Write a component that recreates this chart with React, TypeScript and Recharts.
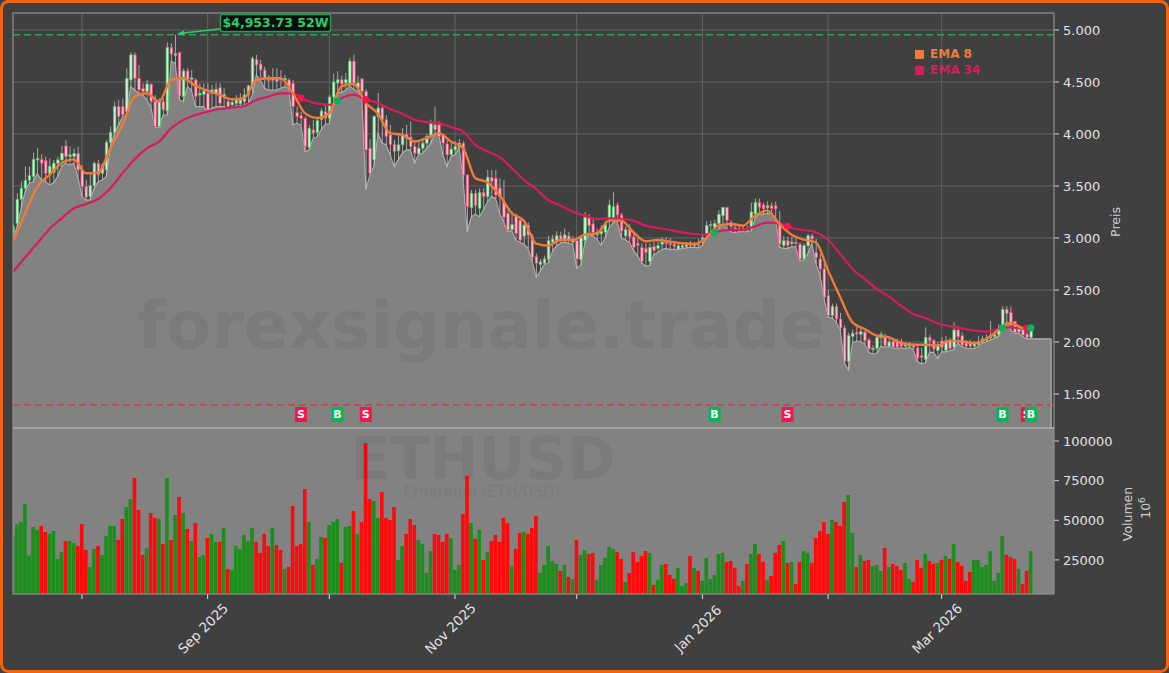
import { Area, Bar, CartesianGrid, Cell, ComposedChart, Line, ReferenceDot, ReferenceLine, XAxis, YAxis } from "recharts";

const opens = [3040,3141,3372,3478,3555,3590,3750,3756,3744,3622,3630,3718,3750,3885,3782,3782,3814,3654,3494,3398,3503,3718,3622,3654,3917,4016,4263,4263,4215,4519,4760,4535,4439,4407,4478,4311,4071,4311,4221,4833,4755,4785,4359,4606,4526,4519,4375,4381,4391,4391,4391,4446,4365,4311,4279,4295,4289,4311,4375,4471,4718,4673,4615,4526,4519,4545,4535,4519,4519,4487,4208,4176,4151,3869,4039,4013,4141,4215,4151,4355,4490,4522,4490,4490,4700,4442,4529,4410,3863,3751,4169,4249,4137,3992,3902,3838,3896,3998,3970,3880,3809,3863,3912,3976,4088,4088,3992,3905,3799,3847,3873,3912,3606,3291,3429,3285,3439,3397,3580,3574,3480,3350,3236,3080,3211,3172,3018,3124,3013,2820,2745,2757,2795,2960,2958,3020,2990,3020,2960,2974,2790,2974,3199,3135,3030,3040,3055,3183,3180,3317,3221,3020,3080,3010,2950,2910,2900,2775,2920,2900,2940,2960,2950,2940,2890,2910,2920,2940,2925,2940,2975,3040,3120,3100,3140,3215,3295,3150,3100,3090,3075,3095,3090,3231,3343,3320,3290,3310,3310,3150,2926,2974,2945,2960,2940,2800,2925,3020,2862,2798,2702,2445,2253,2343,2221,2135,1814,2055,2093,2075,2093,2020,1925,1940,2040,2055,1955,2005,2005,1985,1960,1960,1975,1943,1870,1830,2045,2013,1917,2010,1920,2015,1950,2115,2060,1990,1985,1960,1975,2005,2015,2040,2050,2067,2131,2314,2282,2199,2100,2125,2076,2045];
const highs = [3141,3430,3542,3686,3686,3821,3862,3805,3782,3766,3750,3782,3885,3942,3878,3862,3878,3702,3558,3622,3734,3750,3718,3942,4071,4311,4327,4343,4631,4785,4785,4663,4487,4519,4487,4375,4343,4343,4881,4872,4953,4790,4631,4631,4615,4535,4487,4487,4487,4471,4487,4487,4439,4343,4343,4375,4391,4439,4471,4744,4760,4712,4647,4567,4631,4631,4615,4567,4535,4519,4263,4215,4167,4087,4135,4167,4247,4269,4375,4580,4603,4560,4587,4731,4764,4555,4540,4430,3950,4180,4394,4281,4180,4088,3944,3992,4056,4088,4121,3944,3928,3960,4000,4137,4265,4121,4000,3944,3928,3928,3950,3930,3612,3462,3462,3478,3478,3654,3654,3654,3574,3558,3280,3253,3236,3200,3150,3150,3040,2850,2800,2830,3022,3030,3065,3060,3090,3060,3020,2990,3010,3250,3230,3180,3090,3120,3165,3370,3440,3340,3240,3110,3130,3050,3000,2950,2950,2950,2960,2980,3010,3010,3000,2970,2960,2950,2960,2970,2960,2990,3030,3160,3165,3175,3265,3300,3300,3170,3140,3130,3120,3120,3340,3380,3380,3340,3350,3340,3350,3260,3020,3015,3010,3000,2960,2950,3040,3040,2990,2850,2760,2500,2370,2370,2280,2160,2090,2120,2150,2135,2110,2040,1970,2070,2100,2080,2050,2040,2030,2030,2000,2000,1990,1960,1945,2140,2070,2030,2000,2045,2060,2040,2190,2150,2090,2020,2020,2010,2060,2060,2075,2200,2100,2170,2345,2345,2340,2199,2160,2150,2095,2160];
const lows = [2985,3109,3285,3446,3526,3542,3622,3558,3542,3510,3530,3590,3686,3718,3702,3718,3590,3398,3365,3365,3478,3542,3558,3590,3878,4000,4087,4167,4183,4455,4423,4391,4375,4327,4263,4064,4064,4183,4183,4696,4680,4327,4311,4455,4423,4263,4263,4263,4215,4247,4263,4263,4263,4247,4247,4269,4269,4279,4295,4375,4567,4519,4439,4423,4423,4423,4439,4455,4439,4087,4103,4087,3830,3846,3958,3974,4039,4096,4096,4300,4400,4400,4420,4460,4430,4410,4360,3462,3606,3693,4008,3912,3896,3800,3687,3751,3815,3847,3847,3719,3800,3815,3863,3912,4000,3990,3800,3687,3783,3800,3870,3558,3060,3204,3230,3204,3269,3349,3400,3380,3236,3156,3060,3070,2979,2960,2940,2900,2780,2625,2680,2745,2760,2870,2925,2950,2960,2950,2940,2710,2740,2950,3040,3020,2990,2930,3000,3100,3150,3160,3000,2980,2960,2880,2830,2760,2730,2735,2840,2860,2890,2900,2890,2890,2885,2900,2905,2910,2910,2905,2930,3010,3040,3060,3090,3130,3090,3060,3050,3060,3060,3060,3070,3190,3230,3230,3235,3235,3200,2910,2900,2900,2915,2915,2780,2790,2850,2950,2750,2640,2420,2240,2230,2190,2110,1800,1730,1990,2010,2005,1980,1900,1885,1890,1960,1950,1955,1940,1940,1945,1935,1950,1930,1810,1790,1800,1900,1900,1840,1905,1905,1915,1930,1990,1955,1940,1940,1935,1960,1990,2000,2020,2035,2055,2120,2190,2120,2080,2090,2050,2030,2030];
const closes = [3110,3372,3478,3555,3599,3756,3766,3718,3622,3690,3718,3750,3814,3782,3798,3814,3654,3494,3391,3503,3718,3606,3702,3920,4016,4263,4167,4183,4535,4760,4535,4423,4407,4481,4311,4071,4311,4231,4833,4769,4770,4365,4606,4526,4540,4359,4391,4413,4231,4423,4430,4295,4381,4263,4305,4327,4327,4375,4462,4728,4663,4615,4535,4513,4535,4503,4519,4535,4449,4263,4167,4151,3878,4055,4006,4128,4221,4151,4355,4500,4522,4480,4522,4700,4490,4490,4410,3847,3622,4169,4249,4137,3976,3896,3831,3896,3982,3960,3880,3815,3863,3912,3976,4105,4040,3976,3912,3799,3854,3880,3912,3606,3301,3429,3310,3436,3397,3584,3545,3413,3397,3200,3076,3130,3044,2979,3124,3028,2814,2757,2770,2798,2974,2990,3022,2990,3030,2974,2976,2798,3000,3199,3119,3055,3050,3065,3135,3317,3300,3221,3067,3080,3010,2910,2930,2775,2860,2910,2880,2925,2960,2945,2935,2920,2925,2925,2935,2925,2935,2925,3000,3119,3130,3140,3227,3295,3170,3110,3085,3075,3090,3075,3250,3343,3295,3280,3310,3285,3280,2942,2974,2930,2960,2945,2798,2926,3022,2990,2814,2702,2430,2253,2343,2221,2135,1814,2061,2084,2077,2100,2013,1933,1940,2045,2075,1965,2000,1950,1950,1960,1980,1980,1950,1845,1850,2045,2013,1933,1974,1950,2010,1940,2115,2050,1970,1960,1960,1985,2005,2030,2040,2060,2070,2131,2314,2275,2160,2093,2130,2067,2045,2110];
const volumes = [40120,47680,48940,60280,27730,45790,43900,46420,42640,41380,43270,25630,30040,36970,36970,35710,33820,47680,31300,20590,31930,33820,28150,40120,46420,46420,37600,50830,58390,63430,76660,56500,28150,32560,54610,51460,50830,35080,76660,37600,53350,64690,54610,44530,36970,48310,26890,28150,38860,41380,36340,36340,45160,19330,18700,33820,31930,40750,36970,45160,36340,29410,41380,33820,45160,34450,31300,19330,20590,59020,33820,35080,69730,48940,21850,25630,39490,38860,47050,48940,50830,23110,45790,46420,55870,41380,48940,98710,63430,62170,51460,67840,51460,50200,58390,25000,33820,41380,50830,47050,37600,35080,16810,30670,41380,40750,36340,41380,38860,18700,21850,53980,77920,48310,38230,43900,25000,30040,36970,40750,36340,51460,48310,21220,31930,42010,42640,41380,45160,52720,16810,21850,33820,24370,22480,18070,21850,14290,13030,37600,28150,31300,28780,29410,12400,21850,26260,33190,31930,30040,25630,11140,16810,30040,23740,27520,30670,29410,9250,12400,21850,22480,15550,13030,19960,8620,10510,27520,19960,18070,11770,26260,13030,15550,28780,29410,23740,24370,19960,8620,11770,22480,28780,35080,28780,23740,12400,14920,29410,34450,36970,23110,23740,9880,23740,30670,29410,23110,38860,43270,48940,41380,50200,48940,46420,61540,65950,42010,20590,28150,24370,25000,21220,21850,18070,32560,20590,22480,21220,18700,23110,13030,11140,25000,19960,28780,24370,22480,23110,25000,27520,25630,35080,23740,21220,11770,17440,25000,25000,20590,21850,30670,11770,16810,40120,28150,26890,25630,19330,9880,18070,30670];
// area keeps going a few bars past the last candle
const lowTail = [2030, 2030, 2030, 2030, 2030];

// last one is the final candle
const ema8 = [2965,3237,3494,3606,3718,3756,3622,3628,3862,4087,4359,4391,4311,4519,4535,4462,4417,4375,4333,4343,4519,4535,4535,4391,4200,4153,4200,4458,4480,4297,4195,4008,3992,3928,3960,4008,3928,3863,3575,3535,3410,3240,3165,2945,2926,2981,2981,3032,3045,3167,3167,3055,2968,2981,2965,2949,2942,3000,3119,3135,3119,3215,3263,3135,3030,2984,2958,2686,2430,2189,2125,2061,2045,1990,1974,1974,1965,2013,2006,1987,2029,2115,2183,2131,2109];
const ema34 = [2673,2814,2949,3087,3189,3285,3327,3375,3478,3622,3756,3862,3926,4055,4135,4183,4215,4240,4253,4269,4327,4359,4391,4391,4330,4291,4281,4346,4378,4330,4297,4240,4195,4137,4114,4105,4066,4024,3896,3831,3777,3671,3558,3471,3365,3311,3253,3215,3183,3189,3183,3167,3119,3096,3077,3054,3038,3032,3064,3077,3080,3112,3147,3141,3096,3077,3054,2981,2846,2702,2606,2510,2436,2349,2269,2231,2180,2151,2131,2109,2099,2125,2141,2131,2131];

const monthBars = [17, 48, 78, 109, 139, 170, 201, 229];
const monthLabels = ["", "Sep 2025", "", "Nov 2025", "", "Jan 2026", "", "Mar 2026"];
const priceTicks = [1500, 2000, 2500, 3000, 3500, 4000, 4500, 5000];
const volumeTicks = [25000, 50000, 75000, 100000];

const signalBars = [71, 80, 87, 173, 191, 244, 250, 251];
const signalKinds = ["S", "B", "S", "B", "S", "B", "S", "B"];
const signalPrices = [4346, 4317, 4330, 3050, 3115, 2135, 2130, 2135];

const high52 = 4953.73;
const low52 = 1394;

const UP = "#4cbf66";
const DOWN = "#e8406e";
const SIGNAL = { S: "#f0174f", B: "#00b955" };

const rows: any[] = [];
for (let i = 0; i < highs.length + lowTail.length; i++) {
    const candle = i < highs.length;
    rows.push({
        bar: i,
        open: opens[i],
        close: closes[i],
        high: highs[i],
        low: lows[i],
        range: candle ? [lows[i], highs[i]] : null,
        floor: candle ? lows[i] : lowTail[i - highs.length],
        volume: volumes[i],
        up: candle && closes[i] >= opens[i],
    });
}
ema8.forEach((v, k) => {
    rows[k < ema8.length - 1 ? k * 3 : highs.length - 1].ema8 = v;
});
ema34.forEach((v, k) => {
    rows[k < ema34.length - 1 ? k * 3 : highs.length - 1].ema34 = v;
});

function Candle(props: any) {
    const { x, y, width, height, payload } = props;
    if (!payload || !payload.range) return null;
    const perPrice = height / (payload.high - payload.low);
    const top = y + (payload.high - Math.max(payload.open, payload.close)) * perPrice;
    const bodyH = Math.max(Math.abs(payload.close - payload.open) * perPrice, 1);
    const mid = x + width / 2;
    return (
        <g>
            <line x1={mid} x2={mid} y1={y} y2={y + height} stroke="#c2c2c2" strokeWidth={0.8} />
            <rect
                x={x}
                y={top}
                width={width}
                height={bodyH}
                fill={payload.up ? "#cfeed3" : "#f5bccb"}
                stroke={payload.up ? UP : DOWN}
                strokeWidth={0.7}
            />
        </g>
    );
}

function MonthTick(props: any) {
    const { x, y, payload } = props;
    const label = monthLabels[monthBars.indexOf(payload.value)];
    if (!label) return null;
    const cx = x - 4;
    const cy = y + 28;
    return (
        <text
            x={cx}
            y={cy}
            textAnchor="middle"
            dominantBaseline="middle"
            transform={`rotate(-45 ${cx} ${cy})`}
            fill="#e0e0e0"
            fontSize={13.5}
            fontFamily="DejaVu Sans"
        >
            {label}
        </text>
    );
}

function SignalTag(props: any) {
    const { cx, cy, kind } = props;
    return (
        <g>
            <rect x={cx - 6} y={cy - 7.5} width={12} height={15} fill={SIGNAL[kind]} />
            <text x={cx} y={cy + 4} textAnchor="middle" fill="#fff" fontSize={11} fontWeight="bold" fontFamily="DejaVu Sans">
                {kind}
            </text>
        </g>
    );
}

const axisText = { fill: "#e0e0e0", fontSize: 13, fontFamily: "DejaVu Sans" };

export default function App() {
    return (
        <div style={{ position: "fixed", left: 0, top: 0, width: 1169, height: 673, background: "#404040", overflow: "hidden" }}>
            <div style={{ position: "absolute", left: 0, top: 0 }}>
                <ComposedChart width={1169} height={429} data={rows} margin={{ top: 13, right: 0, bottom: 1, left: 13 }}>
                    <CartesianGrid stroke="#626262" horizontalValues={priceTicks} verticalValues={monthBars} />
                    <XAxis dataKey="bar" type="number" domain={[0, 256.7]} allowDataOverflow hide ticks={monthBars} />
                    <YAxis
                        orientation="right"
                        width={115}
                        domain={[1173, 5163]}
                        allowDataOverflow
                        ticks={priceTicks}
                        interval={0}
                        tick={axisText}
                        tickSize={5}
                        tickMargin={4}
                        stroke="#d0d0d0"
                        axisLine={false}
                        tickFormatter={(v: number) => v.toLocaleString("de-DE")}
                    />
                    <Area
                        dataKey="floor"
                        type="linear"
                        stroke="#b0b0b0"
                        strokeWidth={1.1}
                        fill="#828282"
                        fillOpacity={1}
                        isAnimationActive={false}
                    />
                    <Bar dataKey="range" barSize={2.6} shape={Candle} isAnimationActive={false} />
                    <Line dataKey="ema34" type="monotone" stroke="#d81b60" strokeWidth={2.2} dot={false} connectNulls isAnimationActive={false} />
                    <Line dataKey="ema8" type="monotone" stroke="#f07a3a" strokeWidth={2.4} dot={false} connectNulls isAnimationActive={false} />
                    <ReferenceLine y={high52} stroke="#2f9e5f" strokeWidth={1.6} strokeDasharray="7 4" />
                    <ReferenceLine y={low52} stroke="#d23c3c" strokeWidth={1.6} strokeDasharray="7 4" />
                    <ReferenceLine
                        segment={[
                            { x: rows.length - 1, y: lowTail[0] },
                            { x: rows.length - 1, y: 1173 },
                        ]}
                        stroke="#a0a0a0"
                        strokeWidth={1.5}
                    />
                    {signalBars.map((bar, k) => (
                        <ReferenceDot key={`dot${k}`} x={bar} y={signalPrices[k]} r={3.6} fill={SIGNAL[signalKinds[k]]} stroke="none" />
                    ))}
                    {signalBars.map((bar, k) => (
                        <ReferenceDot key={`tag${k}`} x={bar} y={1303} shape={(p: any) => <SignalTag {...p} kind={signalKinds[k]} />} />
                    ))}
                </ComposedChart>
            </div>

            <div style={{ position: "absolute", left: 0, top: 428 }}>
                <ComposedChart width={1169} height={245} data={rows} margin={{ top: 0, right: 0, bottom: 0, left: 13 }}>
                    <CartesianGrid horizontal={false} vertical={false} fill="#828282" fillOpacity={1} />
                    <XAxis
                        dataKey="bar"
                        type="number"
                        domain={[0, 256.7]}
                        allowDataOverflow
                        ticks={monthBars}
                        interval={0}
                        height={79}
                        tickSize={5}
                        stroke="#e0e0e0"
                        axisLine={false}
                        tick={MonthTick}
                    />
                    <YAxis
                        orientation="right"
                        width={115}
                        domain={[3500, 108200]}
                        allowDataOverflow
                        ticks={volumeTicks}
                        interval={0}
                        tick={axisText}
                        tickSize={5}
                        tickMargin={4}
                        stroke="#d0d0d0"
                        axisLine={false}
                    />
                    <Bar dataKey="volume" barSize={4.2} isAnimationActive={false}>
                        {rows.map((r) => (
                            <Cell key={r.bar} fill={r.up ? "#1a8f1a" : "#ff0a0a"} />
                        ))}
                    </Bar>
                </ComposedChart>
            </div>

            <svg width={1169} height={673} style={{ position: "absolute", left: 0, top: 0, pointerEvents: "none" }}>
                <g fontFamily="DejaVu Sans" fontWeight="bold" fill="#000" opacity={0.05}>
                    <text x={481} y={348} textAnchor="middle" fontSize={66}>forexsignale.trade</text>
                    <text x={483} y={479} textAnchor="middle" fontSize={58}>ETHUSD</text>
                </g>
                <text x={482} y={497} textAnchor="middle" fontSize={15} fontFamily="DejaVu Sans" fill="#000" opacity={0.05}>
                    Ethereum (ETH/USD)
                </text>

                <rect x={13} y={13} width={1041} height={581} fill="none" stroke="#909090" strokeWidth={1.2} />
                <line x1={13} x2={1054} y1={428} y2={428} stroke="#a2a2a2" strokeWidth={2} />

                <line x1={220} y1={29} x2={183} y2={33} stroke="#2ecc71" strokeWidth={1.6} />
                <polygon points="177,34 184,30.5 184.5,35.5" fill="#2ecc71" />
                <rect x={220.5} y={14.5} width={110} height={17} rx={2} fill="#0a0f0c" stroke="#1f9d55" strokeWidth={1.5} />
                <text x={275.5} y={27} textAnchor="middle" fill="#2ecc71" fontSize={12.5} fontWeight="bold" fontFamily="DejaVu Sans">
                    $4,953.73 52W
                </text>

                <rect x={915} y={50} width={9} height={9} fill="#f07a3a" />
                <text x={930} y={58} fill="#f07a3a" fontSize={12} fontWeight="bold" fontFamily="DejaVu Sans">EMA 8</text>
                <rect x={915} y={66} width={9} height={9} fill="#d81b60" />
                <text x={930} y={74} fill="#d81b60" fontSize={12} fontWeight="bold" fontFamily="DejaVu Sans">EMA 34</text>

                <text transform="translate(1120 222) rotate(-90)" textAnchor="middle" fill="#d0d0d0" fontSize={12.5} fontFamily="DejaVu Sans">Preis</text>
                <text transform="translate(1132 514) rotate(-90)" textAnchor="middle" fill="#d0d0d0" fontSize={12.5} fontFamily="DejaVu Sans">Volumen</text>
                <text transform="translate(1150 508) rotate(-90)" textAnchor="middle" fill="#d0d0d0" fontSize={12.5} fontFamily="DejaVu Sans">
                    10<tspan dy={-5} fontSize={9}>6</tspan>
                </text>

                <rect x={1.5} y={1.5} width={1166} height={670} rx={7} fill="none" stroke="#f26410" strokeWidth={3} />
            </svg>
        </div>
    );
}
